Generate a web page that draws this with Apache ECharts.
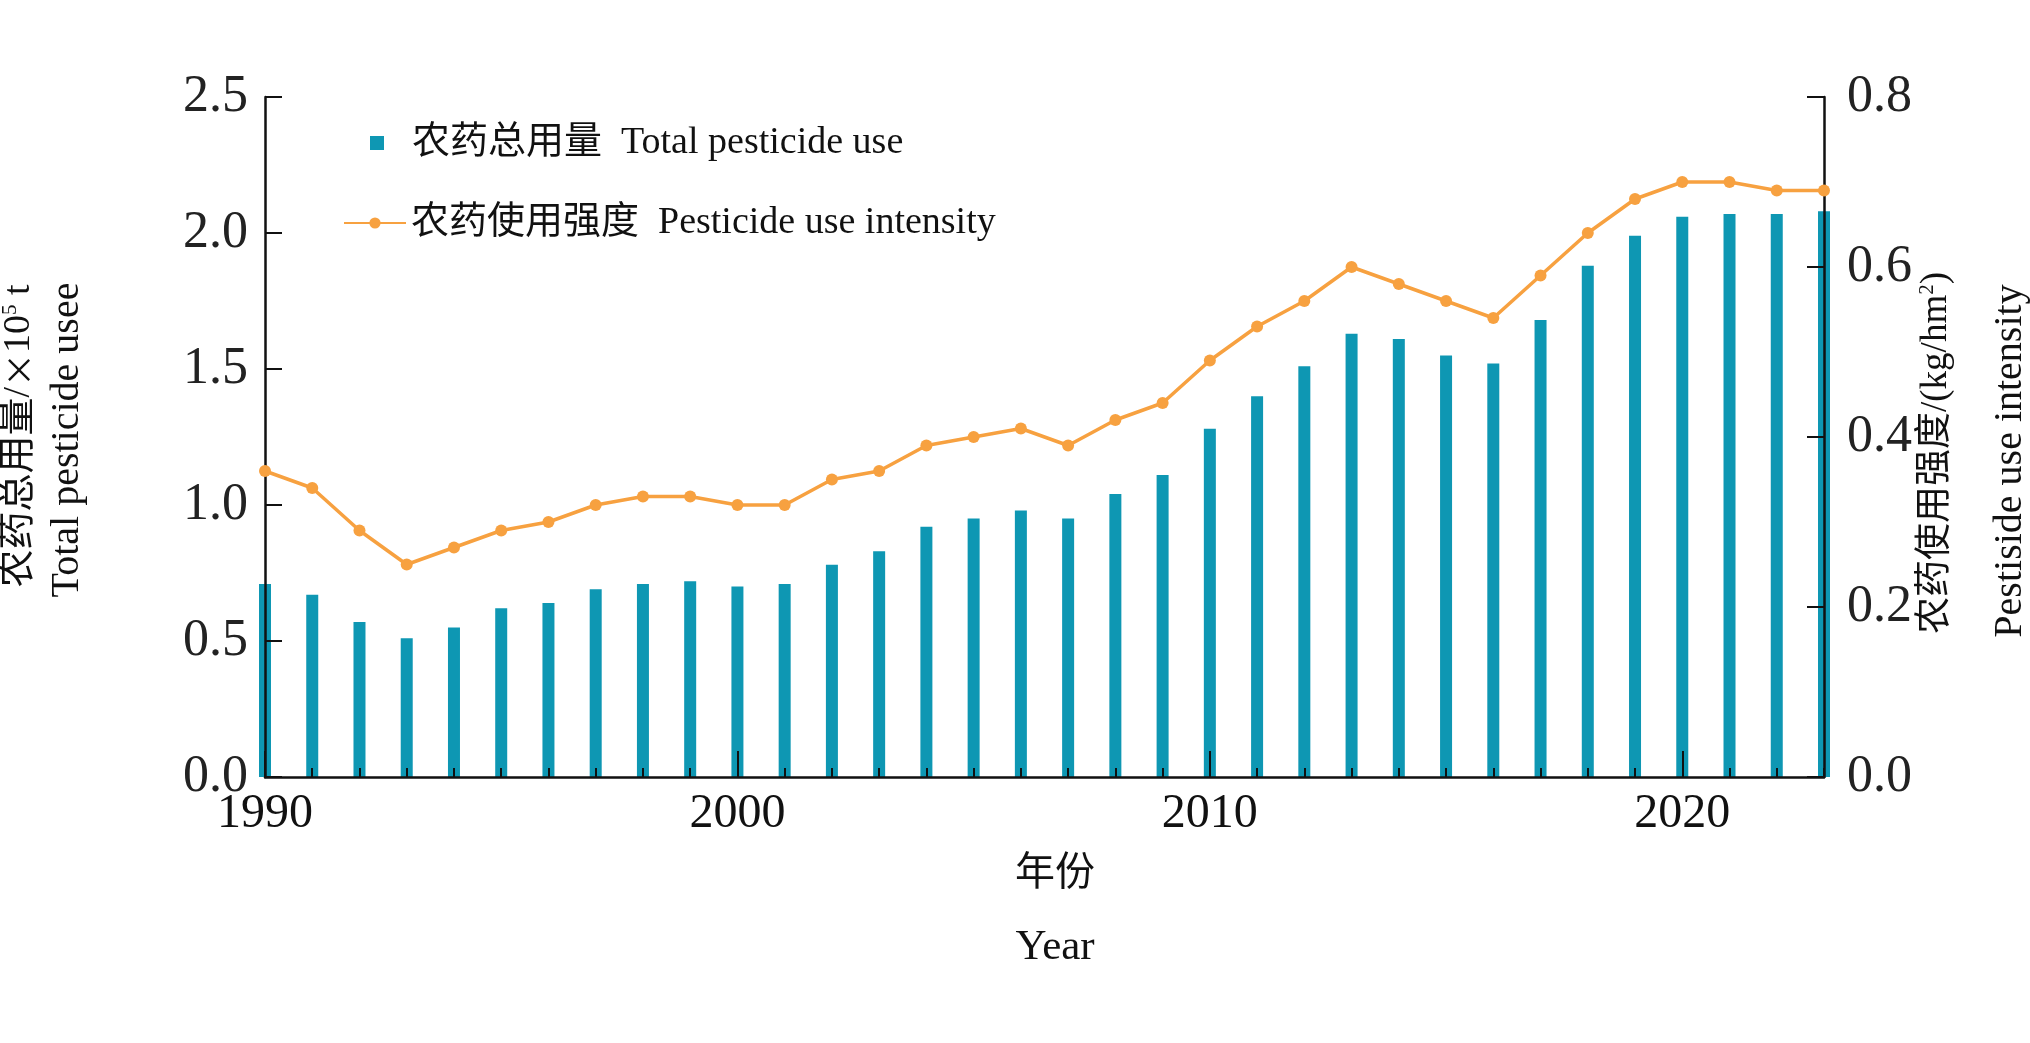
<!DOCTYPE html>
<html>
<head>
<meta charset="utf-8">
<script src="https://cdn.jsdelivr.net/npm/echarts@6/dist/echarts.min.js"></script>
<style>
  html, body { margin: 0; padding: 0; background: #fff; }
  #chart { width: 2030px; height: 1043px; }
</style>
</head>
<body>
<div id="chart"></div>
<script>
// years 1990-2023
var years = [];
for (var y = 1990; y <= 2023; y++) years.push(String(y));

// 农药总用量 (×10^5 t)
var totalUse = [0.71, 0.67, 0.57, 0.51, 0.55, 0.62, 0.64, 0.69, 0.71, 0.72,
  0.70, 0.71, 0.78, 0.83, 0.92, 0.95, 0.98, 0.95, 1.04, 1.11,
  1.28, 1.40, 1.51, 1.63, 1.61, 1.55, 1.52, 1.68, 1.88, 1.99,
  2.06, 2.07, 2.07, 2.08];

// 农药使用强度 (kg/hm2)
var intensity = [0.36, 0.34, 0.29, 0.25, 0.27, 0.29, 0.30, 0.32, 0.33, 0.33,
  0.32, 0.32, 0.35, 0.36, 0.39, 0.40, 0.41, 0.39, 0.42, 0.44,
  0.49, 0.53, 0.56, 0.60, 0.58, 0.56, 0.54, 0.59, 0.64, 0.68,
  0.70, 0.70, 0.69, 0.69];

var leftTicks = [0, 2.5, 0.5];   // min, max, interval
var rightTicks = [0, 0.8, 0.2];

var barName = '农药总用量  Total pesticide use';
var lineName = '农药使用强度  Pesticide use intensity';

var serif = "'Liberation Serif', 'Noto Sans CJK SC'";

var myChart = echarts.init(document.getElementById('chart'));

var option = {
  backgroundColor: '#ffffff',
  animation: false,
  grid: { left: 265, right: 206, top: 97, bottom: 266 },
  legend: [
    {
      data: [{ name: barName, icon: 'rect' }],
      left: 365, top: 119,
      itemWidth: 14, itemHeight: 14,
      textStyle: { fontFamily: serif, fontSize: 38, color: '#111', padding: [0, 0, 0, 23] }
    },
    {
      data: [{ name: lineName }],
      left: 338, top: 199,
      itemWidth: 62, itemHeight: 14,
      textStyle: { fontFamily: serif, fontSize: 38, color: '#111', padding: [0, 0, 0, 0] }
    }
  ],
  xAxis: [
    {
      type: 'category',
      data: years,
      boundaryGap: false,
      z: 5,
      axisLine: { lineStyle: { color: '#111', width: 2.5 } },
      axisTick: { inside: true, length: 9, interval: 0, lineStyle: { color: '#111', width: 2 } },
      axisLabel: {
        interval: function (i, v) { return Number(v) % 10 === 0; },
        fontFamily: serif, fontSize: 48, color: '#111', margin: 13
      },
      splitLine: { show: false }
    },
    {
      // longer ticks for decades
      type: 'category',
      data: years,
      boundaryGap: false,
      position: 'bottom',
      z: 5,
      axisLine: { show: false },
      axisTick: {
        show: true,
        inside: true, length: 26,
        interval: function (i, v) { return Number(v) % 10 === 0; },
        lineStyle: { color: '#111', width: 2 }
      },
      axisLabel: { show: false },
      splitLine: { show: false }
    }
  ],
  yAxis: [
    {
      type: 'value',
      min: leftTicks[0], max: leftTicks[1], interval: leftTicks[2],
      position: 'left',
      z: 5,
      axisLine: { show: true, lineStyle: { color: '#111', width: 2.5 } },
      axisTick: { show: true, inside: true, length: 17, lineStyle: { color: '#111', width: 2 } },
      axisLabel: {
        formatter: function (v) { return v.toFixed(1); },
        fontFamily: serif, fontSize: 52, color: '#222', margin: 17
      },
      splitLine: { show: false }
    },
    {
      type: 'value',
      min: rightTicks[0], max: rightTicks[1], interval: rightTicks[2],
      position: 'right',
      z: 5,
      axisLine: { show: true, lineStyle: { color: '#111', width: 2.5 } },
      axisTick: { show: true, inside: true, length: 17, lineStyle: { color: '#111', width: 2 } },
      axisLabel: {
        formatter: function (v) { return v.toFixed(1); },
        fontFamily: serif, fontSize: 52, color: '#222', margin: 23
      },
      splitLine: { show: false }
    }
  ],
  series: [
    {
      name: barName,
      type: 'bar',
      xAxisIndex: 0,
      yAxisIndex: 0,
      barWidth: 12,
      itemStyle: { color: '#0E97B3' },
      data: totalUse
    },
    {
      name: lineName,
      type: 'line',
      xAxisIndex: 0,
      yAxisIndex: 1,
      z: 6,
      symbol: 'circle',
      symbolSize: 12,
      showAllSymbol: true,
      lineStyle: { color: '#F7A140', width: 3.5 },
      itemStyle: { color: '#F7A140' },
      data: intensity
    }
  ],
  graphic: [
    {
      type: 'text', x: 19, y: 436, rotation: Math.PI / 2,
      style: {
        text: '{a|农药总用量/}{c|×}{a|10}{s|5}{a| t}',
        align: 'center', verticalAlign: 'middle',
        rich: {
          a: { fontFamily: serif, fontSize: 38, fill: '#111' },
          c: { fontFamily: "'Noto Sans CJK SC'", fontSize: 34, fill: '#111' },
          s: { fontFamily: serif, fontSize: 21, fill: '#111', verticalAlign: 'top', padding: [0, 0, 18, 0] }
        }
      }
    },
    {
      type: 'text', x: 67, y: 440, rotation: Math.PI / 2,
      style: { text: 'Total pesticide usee', align: 'center', verticalAlign: 'middle',
        fontFamily: serif, fontSize: 40, fill: '#111' }
    },
    {
      type: 'text', x: 1936, y: 453, rotation: Math.PI / 2,
      style: {
        text: '{a|农药使用强度/(kg/hm}{s|2}{a|)}',
        align: 'center', verticalAlign: 'middle',
        rich: {
          a: { fontFamily: serif, fontSize: 37, fill: '#111' },
          s: { fontFamily: serif, fontSize: 21, fill: '#111', verticalAlign: 'top', padding: [0, 0, 18, 0] }
        }
      }
    },
    {
      type: 'text', x: 2010, y: 461, rotation: Math.PI / 2,
      style: { text: 'Pestiside use intensity', align: 'center', verticalAlign: 'middle',
        fontFamily: serif, fontSize: 40, fill: '#111' }
    },
    {
      type: 'text', x: 1055, y: 874,
      style: { text: '年份', align: 'center', verticalAlign: 'middle',
        fontFamily: serif, fontSize: 40, fill: '#111' }
    },
    {
      type: 'text', x: 1055, y: 948,
      style: { text: 'Year', align: 'center', verticalAlign: 'middle',
        fontFamily: serif, fontSize: 43, fill: '#111' }
    }
  ]
};

myChart.setOption(option);
</script>
</body>
</html>
